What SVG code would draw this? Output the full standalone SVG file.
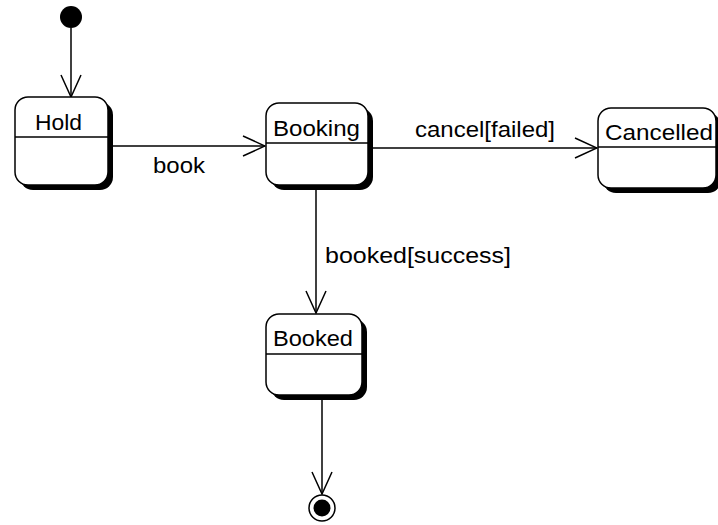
<svg xmlns="http://www.w3.org/2000/svg" width="718" height="525" viewBox="0 0 718 525">
<style>
.shadow{fill:#000;}
.box{fill:#fff;stroke:#000;stroke-width:1.5;}
.div{stroke:#000;stroke-width:1.5;}
.edge{stroke:#000;stroke-width:1.5;fill:none;}
.t{font-family:"Liberation Sans",Arial,sans-serif;font-size:22px;fill:#000;}
</style>
<defs>
<marker id="open" viewBox="0 0 24 24" refX="23" refY="12" markerWidth="24" markerHeight="24" markerUnits="userSpaceOnUse" orient="auto">
<path d="M1,2 L23,12 L1,22" fill="none" stroke="#000" stroke-width="1.5"/>
</marker>
</defs>
<rect width="718" height="525" fill="#fff"/>
<g id="connectors">
<line class="edge" x1="71" y1="28" x2="71" y2="97" marker-end="url(#open)"/>
<line class="edge" x1="112" y1="146" x2="265" y2="146" marker-end="url(#open)"/>
<line class="edge" x1="373" y1="148" x2="597" y2="148" marker-end="url(#open)"/>
<line class="edge" x1="316" y1="189" x2="316" y2="313" marker-end="url(#open)"/>
<line class="edge" x1="322" y1="399" x2="322" y2="494" marker-end="url(#open)"/>
<text class="t" x="153" y="173" textLength="52" lengthAdjust="spacingAndGlyphs">book</text>
<text class="t" x="415" y="137" textLength="140" lengthAdjust="spacingAndGlyphs">cancel[failed]</text>
<text class="t" x="325" y="263" textLength="186" lengthAdjust="spacingAndGlyphs">booked[success]</text>
</g>
<g id="initial">
<circle cx="71" cy="17" r="11" fill="#000"/>
</g>
<g id="hold">
<rect class="shadow" x="20" y="102" width="93" height="88" rx="13"/>
<rect class="box" x="15" y="97" width="93" height="88" rx="13"/>
<line class="div" x1="15" y1="137" x2="108" y2="137"/>
<text class="t" x="35" y="130" textLength="47" lengthAdjust="spacingAndGlyphs">Hold</text>
</g>
<g id="booking">
<rect class="shadow" x="271" y="108" width="102" height="82" rx="13"/>
<rect class="box" x="266" y="103" width="102" height="82" rx="13"/>
<line class="div" x1="266" y1="143" x2="368" y2="143"/>
<text class="t" x="273" y="136" textLength="87" lengthAdjust="spacingAndGlyphs">Booking</text>
</g>
<g id="cancelled">
<rect class="shadow" x="603" y="113" width="118" height="80" rx="13"/>
<rect class="box" x="598" y="108" width="118" height="80" rx="13"/>
<line class="div" x1="598" y1="147" x2="716" y2="147"/>
<text class="t" x="605" y="140" textLength="108" lengthAdjust="spacingAndGlyphs">Cancelled</text>
</g>
<g id="booked">
<rect class="shadow" x="271" y="319" width="96" height="81" rx="13"/>
<rect class="box" x="266" y="314" width="96" height="81" rx="13"/>
<line class="div" x1="266" y1="354" x2="362" y2="354"/>
<text class="t" x="273" y="346" textLength="80" lengthAdjust="spacingAndGlyphs">Booked</text>
</g>
<g id="final">
<circle cx="322" cy="508" r="13" fill="#fff" stroke="#000" stroke-width="1.5"/>
<circle cx="322" cy="508" r="8.5" fill="#000"/>
</g>
</svg>
